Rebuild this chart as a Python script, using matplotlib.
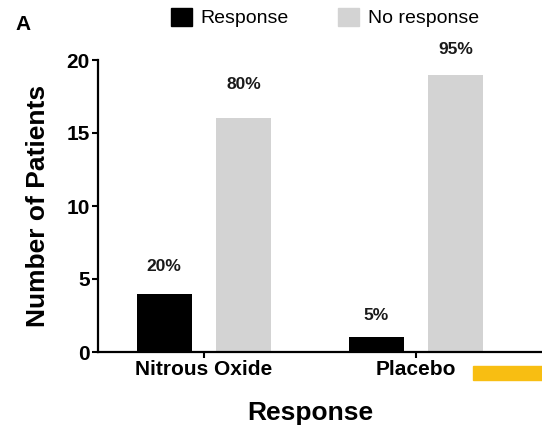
import matplotlib
matplotlib.use("Agg")
import matplotlib.pyplot as plt
from matplotlib.patches import Patch, Rectangle
import numpy as np

plt.rcParams['font.family'] = ['Liberation Sans', 'DejaVu Sans']

categories = ["Nitrous Oxide", "Placebo"]
series_names = ["Response", "No response"]
response = [4, 1]
no_response = [16, 19]
response_pct = ["20%", "5%"]
no_response_pct = ["80%", "95%"]
yticks = [0, 5, 10, 15, 20]

# layout: vertical offsets (points) of the percentage labels above each bar
resp_label_offset = [19.5, 16]
noresp_label_offset = [24.5, 18]

fig = plt.figure(figsize=(5.42, 4.28), dpi=100)
ax = fig.add_axes([98/542, 1-352/428, 1-98/542, (352-60)/428])

x = np.arange(len(categories))
w = 0.26
off = 0.1875
b1 = ax.bar(x - off, response, w, color="black", label=series_names[0])
b2 = ax.bar(x + off, no_response, w, color="#D3D3D3", label=series_names[1])

for bars, labels, offs in ((b1, response_pct, resp_label_offset),
                           (b2, no_response_pct, noresp_label_offset)):
    for r, lab, dy in zip(bars, labels, offs):
        ax.annotate(lab, (r.get_x() + r.get_width()/2, r.get_height()),
                    xytext=(0, dy), textcoords="offset points",
                    ha="center", va="center", fontsize=12.5, fontweight="bold",
                    color="#1a1a1a", annotation_clip=False)

ax.set_xlim(-0.5, 1.594)
ax.set_ylim(0, 20)
ax.set_yticks(yticks)
ax.set_xticks(x)
ax.set_xticklabels(categories, fontsize=15, fontweight="bold")
for t in ax.get_yticklabels():
    t.set_fontsize(15)
    t.set_fontweight("bold")
ax.tick_params(axis="both", width=1.5, length=4, pad=2)
for s in ("top", "right"):
    ax.spines[s].set_visible(False)
for s in ("left", "bottom"):
    ax.spines[s].set_linewidth(1.6)

ax.set_ylabel("Number of Patients", fontsize=19, fontweight="bold")
ax.yaxis.set_label_coords(-(98-50)/(542-98), 0.5)
ax.set_xlabel("Response", fontsize=19, fontweight="bold")
ax.xaxis.set_label_coords((310-98)/(542-98), -(401-352)/(352-60))

handles = [Patch(color="black"), Patch(color="#D3D3D3")]
fig.legend(handles, series_names, loc="upper left", bbox_to_anchor=(158/542, 1.012),
           ncol=2, frameon=False, fontsize=14, handlelength=1.1, handleheight=1.1,
           handletextpad=0.45, columnspacing=2.5, borderaxespad=0.25)

fig.text(15/542, 1-25/428, "A", fontsize=15, fontweight="bold", va="center", ha="left")
fig.add_artist(Rectangle((473/542, (428-380)/428), 1-473/542, 14/428,
                         transform=fig.transFigure, color="#F8BE12", clip_on=False))

fig.savefig("out.png", dpi=100)
